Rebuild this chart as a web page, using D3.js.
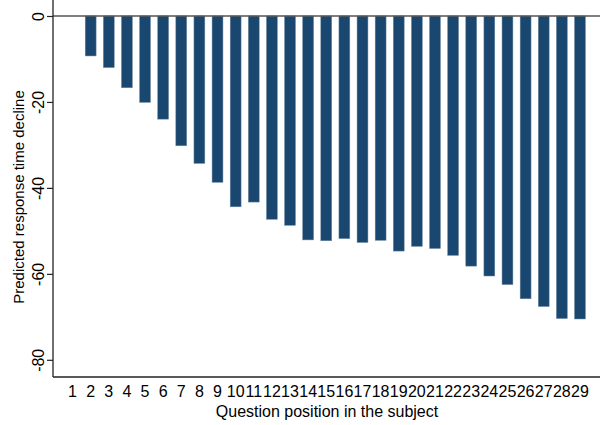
<!DOCTYPE html>
<html>
<head>
<meta charset="utf-8">
<script src="https://cdn.jsdelivr.net/npm/d3@7"></script>
<style>
  body { margin: 0; background: #fff; }
  text { font-family: "Liberation Sans", Arial, sans-serif; fill: #000; }
</style>
</head>
<body>
<svg id="chart" width="605" height="425"></svg>
<script>
// question positions and predicted decline
var positions = d3.range(1, 30);
var declines = [0, -9.3, -12.0, -16.7, -20.1, -24.0, -30.2, -34.3, -38.7, -44.4,
  -43.3, -47.3, -48.7, -52.1, -52.3, -51.8, -52.7, -52.2, -54.7, -53.6,
  -54.1, -55.7, -58.2, -60.5, -62.5, -65.8, -67.6, -70.4, -70.5];
var yTicks = [0, -20, -40, -60, -80];

var svg = d3.select('#chart');
var plotLeft = 53, plotRight = 600, plotTop = 0, plotBottom = 377;

var x = d3.scaleBand()
  .domain(positions)
  .range([67.1, 585.4])
  .paddingInner(0.4)
  .paddingOuter(0);

var y = d3.scaleLinear()
  .domain([-84, 3.72])
  .range([plotBottom, plotTop]);

var data = positions.map(function(p, i){ return {pos: p, val: declines[i]}; });

// bars
svg.append('g').selectAll('rect')
  .data(data.filter(function(d){ return d.val < 0; }))
  .enter().append('rect')
  .attr('x', function(d){ return x(d.pos); })
  .attr('y', y(0))
  .attr('width', x.bandwidth())
  .attr('height', function(d){ return y(d.val) - y(0); })
  .attr('fill', '#1a476f')
  .attr('stroke', '#6d88a0')
  .attr('stroke-width', 0.5);

// zero line
svg.append('line')
  .attr('x1', plotLeft).attr('x2', plotRight)
  .attr('y1', y(0)).attr('y2', y(0))
  .attr('stroke', '#555')
  .attr('stroke-width', 1.5);

// y axis, hyphen minus like the original
var yAxis = svg.append('g')
  .attr('transform', 'translate(' + plotLeft + ',0)')
  .call(d3.axisLeft(y).tickValues(yTicks).tickSize(6).tickFormat(function(d){ return String(d); }));
yAxis.select('.domain').attr('d', 'M0,' + plotTop + 'V' + plotBottom).attr('stroke', '#222').attr('stroke-width', 1.3);
yAxis.selectAll('.tick line').attr('stroke', '#222').attr('stroke-width', 1.2);
yAxis.selectAll('.tick text')
  .attr('font-size', 16)
  .attr('x', 0).attr('dy', null)
  .attr('text-anchor', 'middle')
  .attr('transform', 'translate(-9.5,0) rotate(-90)');

// x axis
var xAxis = svg.append('g')
  .attr('transform', 'translate(0,' + plotBottom + ')')
  .call(d3.axisBottom(x).tickSize(0).tickPadding(9));
xAxis.select('.domain').attr('d', 'M' + plotLeft + ',0H' + plotRight).attr('stroke', '#222').attr('stroke-width', 1.3);
xAxis.selectAll('.tick text').attr('font-size', 16);

// titles
svg.append('text')
  .attr('x', 327).attr('y', 417)
  .attr('text-anchor', 'middle')
  .attr('font-size', 16)
  .text('Question position in the subject');

svg.append('text')
  .attr('transform', 'translate(24,197) rotate(-90)')
  .attr('text-anchor', 'middle')
  .attr('font-size', 15)
  .text('Predicted response time decline');
</script>
</body>
</html>
